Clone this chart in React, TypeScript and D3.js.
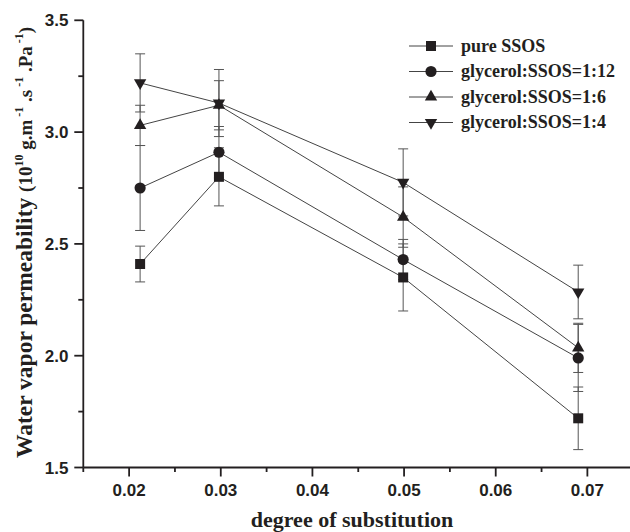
import React from "react";
import * as d3 from "d3";

const xValues = [0.0212, 0.0298, 0.0499, 0.069];
const seriesNames = ["pure SSOS", "glycerol:SSOS=1:12", "glycerol:SSOS=1:6", "glycerol:SSOS=1:4"];
const pureSSOS = [2.41, 2.8, 2.35, 1.72];
const pureSSOSErr = [0.08, 0.13, 0.15, 0.14];
const gly12 = [2.75, 2.91, 2.43, 1.99];
const gly12Err = [0.19, 0.115, 0.09, 0.15];
const gly6 = [3.03, 3.12, 2.62, 2.035];
const gly6Err = [0.09, 0.11, 0.135, 0.11];
const gly4 = [3.22, 3.13, 2.775, 2.285];
const gly4Err = [0.13, 0.15, 0.15, 0.12];
const symbols = ["square", "circle", "triangle", "triangleDown"];
const xTicks = [0.02, 0.03, 0.04, 0.05, 0.06, 0.07];
const xMinor = [0.015, 0.025, 0.035, 0.045, 0.055, 0.065, 0.075];
const yTicks = [1.5, 2.0, 2.5, 3.0, 3.5];
const yMinor = [1.75, 2.25, 2.75, 3.25];

const series = [
  { name: seriesNames[0], v: pureSSOS, e: pureSSOSErr, s: symbols[0] },
  { name: seriesNames[1], v: gly12, e: gly12Err, s: symbols[1] },
  { name: seriesNames[2], v: gly6, e: gly6Err, s: symbols[2] },
  { name: seriesNames[3], v: gly4, e: gly4Err, s: symbols[3] },
];

const W = 630, H = 532;
const x = d3.scaleLinear().domain([0.015, 0.075]).range([83.3, 633.2]);
const y = d3.scaleLinear().domain([1.5, 3.5]).range([467.5, 20.3]);

const INK = "#231f20";
const serif = "'Liberation Serif', 'Times New Roman', serif";
const sans = "'Liberation Sans', Arial, sans-serif";

function markerPath(s: string) {
  if (s === "square") return d3.symbol(d3.symbolSquare, 100)()!;
  if (s === "circle") return d3.symbol(d3.symbolCircle, 98)()!;
  return d3.symbol(d3.symbolTriangle, 66)()!;
}

function Marker({ s, cx, cy }: { s: string; cx: number; cy: number }) {
  const rot = s === "triangleDown" ? 180 : 0;
  return (
    <path
      d={markerPath(s)}
      transform={`translate(${cx},${cy}) rotate(${rot})`}
      fill={INK}
      stroke="none"
    />
  );
}

export default function App() {
  const line = d3
    .line<number>()
    .x((_, i) => x(xValues[i]))
    .y((d) => y(d));
  const legendY0 = 46;
  const legendDy = 25.5;
  return (
    <div style={{ position: "absolute", left: 0, top: 0 }}>
      <svg width={W} height={H} style={{ display: "block", background: "#fff" }}>
        {/* error bars */}
        {series.map((sr, si) =>
          sr.v.map((v, i) => {
            const cx = x(xValues[i]);
            const y1 = y(v + sr.e[i]);
            const y2 = y(v - sr.e[i]);
            return (
              <g key={`e${si}-${i}`} stroke="#555" strokeWidth={1}>
                <line x1={cx} x2={cx} y1={y1} y2={y2} />
                <line x1={cx - 5} x2={cx + 5} y1={y1} y2={y1} />
                <line x1={cx - 5} x2={cx + 5} y1={y2} y2={y2} />
              </g>
            );
          })
        )}
        {/* lines */}
        {series.map((sr, si) => (
          <path key={`l${si}`} d={line(sr.v)!} fill="none" stroke="#444" strokeWidth={1} />
        ))}
        {/* markers */}
        {series.map((sr, si) =>
          sr.v.map((v, i) => (
            <Marker key={`m${si}-${i}`} s={sr.s} cx={x(xValues[i])} cy={y(v)} />
          ))
        )}
        {/* axes */}
        <g stroke={INK} strokeWidth={1.8} fill="none">
          <line x1={x(0.015)} x2={x(0.075)} y1={y(1.5)} y2={y(1.5)} />
          <line x1={x(0.015)} x2={x(0.015)} y1={y(1.5)} y2={y(3.5)} />
          {xTicks.map((t) => (
            <line key={`xt${t}`} x1={x(t)} x2={x(t)} y1={y(1.5)} y2={y(1.5) + 9} />
          ))}
          {xMinor.map((t) => (
            <line key={`xm${t}`} x1={x(t)} x2={x(t)} y1={y(1.5)} y2={y(1.5) + 4.5} />
          ))}
          {yTicks.map((t) => (
            <line key={`yt${t}`} x1={x(0.015) - 9} x2={x(0.015)} y1={y(t)} y2={y(t)} />
          ))}
          {yMinor.map((t) => (
            <line key={`ym${t}`} x1={x(0.015) - 5} x2={x(0.015)} y1={y(t)} y2={y(t)} />
          ))}
        </g>
        <g fontFamily={sans} fontWeight="bold" fontSize={17} fill={INK}>
          {xTicks.map((t) => (
            <text key={`xl${t}`} x={x(t)} y={495.5} textAnchor="middle">
              {d3.format(".2f")(t)}
            </text>
          ))}
          {yTicks.map((t) => (
            <text key={`yl${t}`} x={68.5} y={y(t)} dy="0.36em" textAnchor="end">
              {d3.format(".1f")(t)}
            </text>
          ))}
        </g>
        {/* axis titles */}
        <text
          x={352}
          y={527}
          textAnchor="middle"
          fontFamily={serif}
          fontWeight="bold"
          fontSize={22}
          fill={INK}
        >
          degree of substitution
        </text>
        <text
          transform={`translate(32,458) rotate(-90)`}
          textAnchor="start"
          fontFamily={serif}
          fontWeight="bold"
          fontSize={23.5}
          fill={INK}
        >
          <tspan>Water vapor permeability </tspan>
          <tspan fontSize={19}>(10</tspan>
          <tspan dy={-9} fontSize={12}>10</tspan>
          <tspan dy={9} fontSize={19}> g.m</tspan>
          <tspan dy={-9} fontSize={12}> -1</tspan>
          <tspan dy={9} fontSize={19}> .s</tspan>
          <tspan dy={-9} fontSize={12}> -1</tspan>
          <tspan dy={9} fontSize={19}> .Pa</tspan>
          <tspan dy={-9} fontSize={12}> -1</tspan>
          <tspan dy={9} fontSize={19}>)</tspan>
        </text>
        {/* legend */}
        {series.map((sr, si) => {
          const ly = legendY0 + si * legendDy;
          return (
            <g key={`lg${si}`}>
              <line x1={409} x2={453} y1={ly} y2={ly} stroke="#444" strokeWidth={1} />
              <Marker s={sr.s} cx={431} cy={ly} />
              <text
                x={461}
                y={ly}
                dy="0.33em"
                fontFamily={serif}
                fontWeight="bold"
                fontSize={18}
                fill={INK}
              >
                {sr.name}
              </text>
            </g>
          );
        })}
      </svg>
    </div>
  );
}
